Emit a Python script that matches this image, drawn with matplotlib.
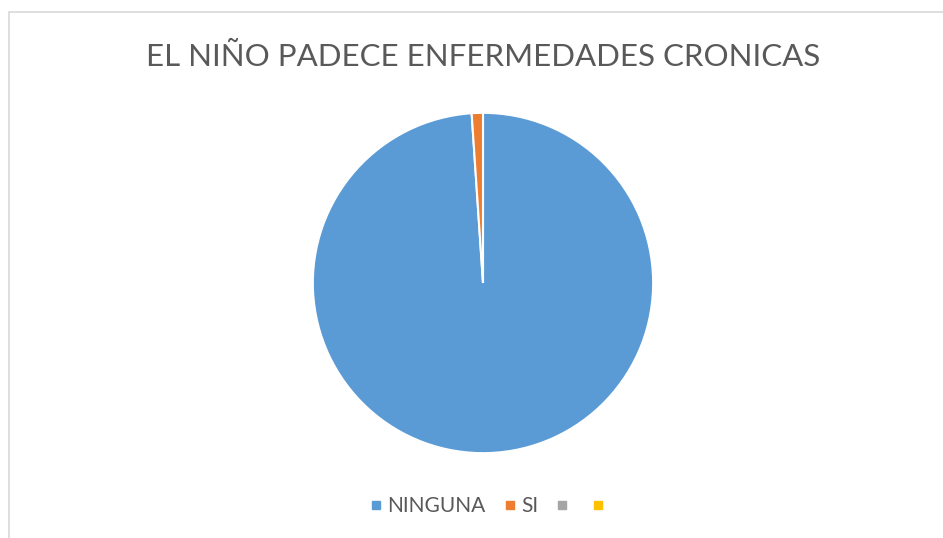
import matplotlib
matplotlib.use("Agg")
import matplotlib.pyplot as plt
from matplotlib.patches import Rectangle
from matplotlib.lines import Line2D

plt.rcParams['font.family'] = ['Lato', 'DejaVu Sans']

# data
categorias = ['NINGUNA', 'SI', '', '']
valores = [93, 1, 0, 0]
colores = ['#5B9BD5', '#ED7D31', '#A5A5A5', '#FFC000']
titulo = 'EL NIÑO PADECE ENFERMEDADES CRONICAS'

W, H = 943, 538
fig = plt.figure(figsize=(W / 100, H / 100), dpi=100)

# chart area border (cut off at right and bottom like the screenshot)
fig.patches.append(Rectangle((8.5 / W, -0.1), 1.2, 1 - 12.5 / H + 0.1,
                             transform=fig.transFigure, fill=False,
                             edgecolor='#d9d9d9', linewidth=1.2))

# pie, center ~ (483, 283) px, radius ~171 px
r = 171
cx, cy = 483, H - 283
ax = fig.add_axes([(cx - r) / W, (cy - r) / H, 2 * r / W, 2 * r / H])
vals = [v for v in valores if v > 0]
cols = [c for v, c in zip(valores, colores) if v > 0]
ax.pie(vals, colors=cols, startangle=90, counterclock=False, radius=1,
       wedgeprops=dict(edgecolor='white', linewidth=1.5))
ax.set_xlim(-1.005, 1.005)
ax.set_ylim(-1.005, 1.005)
ax.set_aspect('equal')
ax.axis('off')

fig.text(483 / W, 1 - 57 / H, titulo, ha='center', va='center',
         fontsize=22.5, color='#595959')

handles = [Line2D([], [], marker='s', linestyle='none', markersize=6.2,
                  markerfacecolor=c, markeredgecolor=c) for c in colores]
fig.legend(handles, categorias, loc='center', bbox_to_anchor=(490 / W, 1 - 506 / H),
           ncol=4, frameon=False, fontsize=15, labelcolor='#595959',
           handlelength=0.5, handletextpad=0.3, columnspacing=0.9)

fig.savefig('out.png', dpi=100)
